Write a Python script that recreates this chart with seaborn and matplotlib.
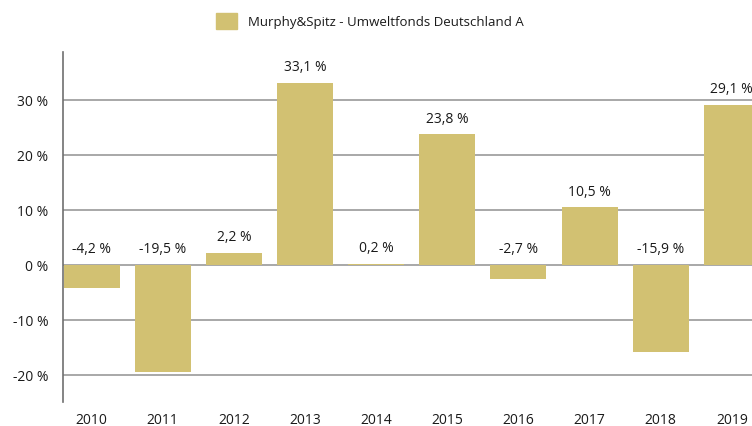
import matplotlib
matplotlib.use("Agg")
import matplotlib.pyplot as plt
import matplotlib.patches as mpatches
from matplotlib.ticker import FuncFormatter
import pandas as pd
import seaborn as sns

# chart values
years = ["2010", "2011", "2012", "2013", "2014", "2015", "2016", "2017", "2018", "2019"]
returns = [-4.2, -19.5, 2.2, 33.1, 0.2, 23.8, -2.7, 10.5, -15.9, 29.1]
y_ticks = [-20, -10, 0, 10, 20, 30]
series_name = "Murphy&Spitz - Umweltfonds Deutschland A"

bar_color = "#D2C172"
grid_color = "#A8A8A8"
text_color = "#1a1a1a"

sns.set_style("white")
plt.rcParams["font.family"] = ["Open Sans", "DejaVu Sans"]
plt.rcParams["font.size"] = 10

df = pd.DataFrame({"Jahr": years, "Rendite": returns})

fig = plt.figure(figsize=(7.52, 4.27), dpi=100)
ax = fig.add_axes([63.5 / 752, 1 - 403 / 427, 1 - 63.5 / 752, (403 - 53) / 427])

sns.barplot(data=df, x="Jahr", y="Rendite", color=bar_color, width=0.787,
            saturation=1, linewidth=0, ax=ax, zorder=3)

# horizontal grid
for t in y_ticks:
    ax.axhline(t, color=grid_color, linewidth=1.4, zorder=1)

ax.set_xlim(-0.394, 9.283)
ax.set_ylim(-25.0, 38.7)
ax.set_yticks(y_ticks)
ax.yaxis.set_major_formatter(FuncFormatter(lambda v, p: f"{int(v)} %"))
ax.set_xlabel("")
ax.set_ylabel("")

ax.tick_params(axis="y", length=6, width=1.2, color="#6f6f6f", pad=5,
               labelcolor=text_color, labelsize=10)
ax.tick_params(axis="x", length=0, pad=7, labelcolor=text_color, labelsize=10)

for side in ["top", "right", "bottom"]:
    ax.spines[side].set_visible(False)
ax.spines["left"].set_color("#6f6f6f")
ax.spines["left"].set_linewidth(1.2)

# value labels
for i, v in enumerate(returns):
    ax.annotate(f"{v:.1f} %".replace(".", ","), xy=(i, max(v, 0)),
                xytext=(0, 6), textcoords="offset points",
                ha="center", va="bottom", fontsize=10, color=text_color,
                zorder=4, annotation_clip=False)

# legend
handle = mpatches.Patch(color=bar_color, label=series_name)
fig.legend(handles=[handle], loc="center left",
           bbox_to_anchor=(204 / 752, 1 - 22 / 427), frameon=False,
           handlelength=1.6, handleheight=1.6, handletextpad=0.8,
           fontsize=9.5, labelcolor=text_color)

fig.savefig("out.png", dpi=100)
